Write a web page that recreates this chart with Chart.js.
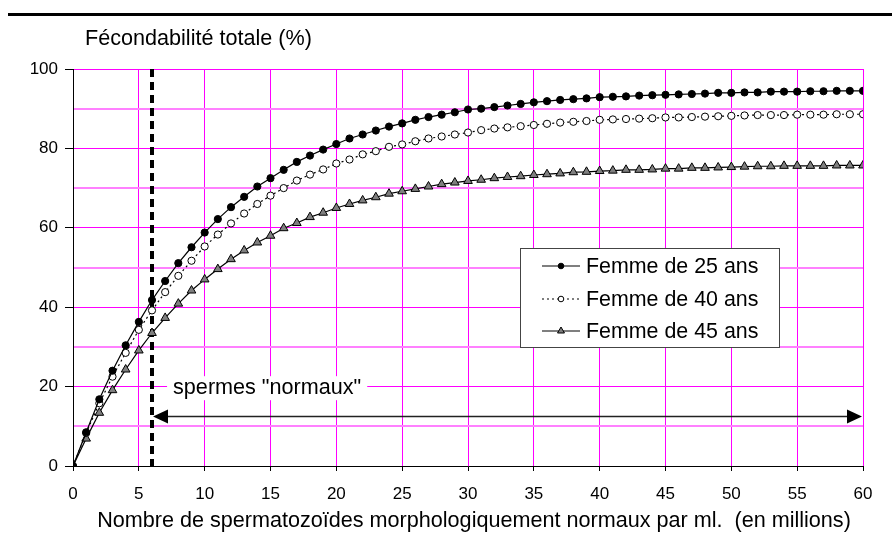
<!DOCTYPE html>
<html>
<head>
<meta charset="utf-8">
<script src="https://cdn.jsdelivr.net/npm/chart.js@4/dist/chart.umd.min.js"></script>
<style>
  body { margin: 0; background: #fff; }
  canvas { display: block; }
</style>
</head>
<body>
<canvas id="chart1"></canvas>
<script>
// nombre de spermatozoïdes (millions / ml)
const spermes = [0, 1, 2, 3, 4, 5, 6, 7, 8, 9, 10, 11, 12, 13, 14, 15, 16, 17, 18, 19, 20,
  21, 22, 23, 24, 25, 26, 27, 28, 29, 30, 31, 32, 33, 34, 35, 36, 37, 38, 39, 40,
  41, 42, 43, 44, 45, 46, 47, 48, 49, 50, 51, 52, 53, 54, 55, 56, 57, 58, 59, 60];

const femme25 = [0, 8.5, 16.8, 24.0, 30.4, 36.3, 41.8, 46.6, 51.1, 55.1, 58.8,
  62.2, 65.2, 67.8, 70.4, 72.5, 74.6, 76.6, 78.2, 79.7, 81.1,
  82.5, 83.5, 84.5, 85.5, 86.3, 87.2, 87.9, 88.5, 89.1, 89.8,
  90.0, 90.4, 90.8, 91.2, 91.6, 91.9, 92.2, 92.4, 92.6, 92.9,
  93.0, 93.1, 93.3, 93.4, 93.5, 93.6, 93.7, 93.8, 94.0, 94.0,
  94.1, 94.1, 94.3, 94.3, 94.3, 94.4, 94.4, 94.5, 94.5, 94.5];

const femme40 = [0, 8.3, 15.8, 22.5, 28.5, 34.3, 39.2, 43.8, 47.9, 51.7, 55.3,
  58.3, 61.1, 63.6, 66.0, 68.1, 70.0, 71.9, 73.4, 74.7, 76.2,
  77.2, 78.5, 79.3, 80.4, 81.0, 81.8, 82.5, 83.0, 83.5, 84.0,
  84.6, 85.0, 85.3, 85.6, 85.9, 86.2, 86.5, 86.7, 86.9, 87.2,
  87.3, 87.4, 87.5, 87.6, 87.8, 87.8, 87.9, 88.0, 88.1, 88.2,
  88.3, 88.4, 88.4, 88.4, 88.5, 88.5, 88.5, 88.6, 88.6, 88.6];

const femme45 = [0, 6.9, 13.4, 19.1, 24.3, 29.1, 33.5, 37.3, 40.9, 44.2, 47.0,
  49.6, 52.1, 54.3, 56.3, 58.0, 59.9, 61.2, 62.7, 63.8, 65.0,
  66.0, 66.9, 67.7, 68.6, 69.2, 69.8, 70.4, 71.0, 71.4, 71.8,
  72.1, 72.5, 72.8, 73.0, 73.3, 73.5, 73.7, 74.0, 74.1, 74.3,
  74.4, 74.6, 74.6, 74.7, 74.9, 74.9, 75.1, 75.1, 75.2, 75.3,
  75.4, 75.5, 75.5, 75.6, 75.6, 75.6, 75.6, 75.7, 75.7, 75.7];

const seriesNames = ['Femme de 25 ans', 'Femme de 40 ans', 'Femme de 45 ans'];

// seuil "normal" et flèche
const seuilNormal = 6;
const flecheY = 12.7;
const flecheFin = 60;
const texteNormaux = 'spermes "normaux"';
const texteX = 7.6;
const texteY = 19.6;

const titreY = 'Fécondabilité totale (%)';
const titreX = 'Nombre de spermatozoïdes morphologiquement normaux par ml.  (en millions)';

const FONT = '"Liberation Sans", Arial, sans-serif';
const MAGENTA = '#ff00ff';

const canvas = document.getElementById('chart1');
canvas.width = 892;
canvas.height = 548;
const ctx = canvas.getContext('2d');

function pts(values) {
  return spermes.map(function (x, i) { return { x: x, y: values[i] }; });
}

const datasets = [
  {
    label: seriesNames[0],
    data: pts(femme25),
    borderColor: '#000',
    borderWidth: 1.2,
    pointStyle: 'circle',
    pointRadius: 3.6,
    pointBackgroundColor: '#000',
    pointBorderColor: '#000',
    pointBorderWidth: 1,
  },
  {
    label: seriesNames[1],
    data: pts(femme40),
    borderColor: '#000',
    borderWidth: 1.2,
    borderDash: [2, 3],
    pointStyle: 'circle',
    pointRadius: 3.6,
    pointBackgroundColor: '#fff',
    pointBorderColor: '#000',
    pointBorderWidth: 1,
  },
  {
    label: seriesNames[2],
    data: pts(femme45),
    borderColor: '#000',
    borderWidth: 1.2,
    pointStyle: 'triangle',
    pointRadius: 5,
    pointBackgroundColor: '#7f7f7f',
    pointBorderColor: '#000',
    pointBorderWidth: 1,
  },
];

function drawMarker(c, ds, x, y, r) {
  c.save();
  c.setLineDash([]);
  c.lineWidth = 1;
  c.fillStyle = ds.pointBackgroundColor;
  c.strokeStyle = ds.pointBorderColor;
  c.beginPath();
  if (ds.pointStyle === 'triangle') {
    c.moveTo(x, y - r);
    c.lineTo(x + r * 0.87, y + r * 0.5);
    c.lineTo(x - r * 0.87, y + r * 0.5);
    c.closePath();
  } else {
    c.arc(x, y, r, 0, Math.PI * 2);
  }
  c.fill();
  c.stroke();
  c.restore();
}

const decor = {
  id: 'decor',
  beforeDraw(chart) {
    const c = chart.ctx;
    const a = chart.chartArea;
    c.save();
    c.fillStyle = '#fff';
    c.fillRect(0, 0, chart.width, chart.height);
    // trait en haut
    c.fillStyle = '#000';
    c.fillRect(8, 13, chart.width - 8, 3);
    // titres
    c.font = '21.6px ' + FONT;
    c.textBaseline = 'middle';
    c.textAlign = 'left';
    c.fillText(titreY, a.left + 12, 39);
    c.textAlign = 'center';
    c.fillText(titreX, (a.left + a.right) / 2 + 6, 521);
    c.restore();
  },
  beforeDatasetsDraw(chart) {
    const c = chart.ctx;
    const xs = chart.scales.x;
    const ys = chart.scales.y;
    const px = Math.round(xs.getPixelForValue(seuilNormal));
    c.save();
    c.strokeStyle = '#000';
    c.lineWidth = 4;
    c.setLineDash([8, 5]);
    c.beginPath();
    c.moveTo(px, ys.getPixelForValue(100));
    c.lineTo(px, ys.getPixelForValue(0));
    c.stroke();
    c.restore();
  },
  afterDatasetsDraw(chart) {
    const c = chart.ctx;
    const xs = chart.scales.x;
    const ys = chart.scales.y;
    c.save();
    // texte avec fond blanc
    c.font = '21.6px ' + FONT;
    c.textBaseline = 'middle';
    c.textAlign = 'left';
    const tx = xs.getPixelForValue(texteX);
    const ty = ys.getPixelForValue(texteY);
    const tw = c.measureText(texteNormaux).width;
    c.fillStyle = '#fff';
    c.fillRect(tx - 6, ty - 12, tw + 12, 24);
    c.fillStyle = '#000';
    c.fillText(texteNormaux, tx, ty);

    // flèche double
    const x1 = xs.getPixelForValue(seuilNormal) + 1;
    const x2 = xs.getPixelForValue(flecheFin) - 1;
    const fy = Math.round(ys.getPixelForValue(flecheY)) + 0.5;
    c.strokeStyle = '#222';
    c.lineWidth = 1.5;
    c.beginPath();
    c.moveTo(x1 + 10, fy);
    c.lineTo(x2 - 10, fy);
    c.stroke();
    c.fillStyle = '#000';
    c.beginPath();
    c.moveTo(x1, fy);
    c.lineTo(x1 + 15, fy - 7);
    c.lineTo(x1 + 15, fy + 7);
    c.closePath();
    c.fill();
    c.beginPath();
    c.moveTo(x2, fy);
    c.lineTo(x2 - 15, fy - 7);
    c.lineTo(x2 - 15, fy + 7);
    c.closePath();
    c.fill();

    // légende
    const L = 520, T = 248, W = 259, H = 99;
    c.fillStyle = '#fff';
    c.fillRect(L, T, W, H);
    c.strokeStyle = '#444';
    c.lineWidth = 1;
    c.strokeRect(L + 0.5, T + 0.5, W, H);
    const rows = [266, 299, 331];
    chart.data.datasets.forEach(function (ds, i) {
      const y = rows[i];
      c.strokeStyle = '#000';
      c.lineWidth = 1.2;
      c.setLineDash(ds.borderDash || []);
      c.beginPath();
      c.moveTo(L + 22, y);
      c.lineTo(L + 60, y);
      c.stroke();
      c.setLineDash([]);
      drawMarker(c, ds, L + 41, y, ds.pointStyle === 'triangle' ? 4 : 2.8);
      c.fillStyle = '#000';
      c.font = '21.4px ' + FONT;
      c.textAlign = 'left';
      c.textBaseline = 'middle';
      c.fillText(ds.label, L + 66, y + 1);
    });
    c.restore();
  },
};

new Chart(ctx, {
  type: 'line',
  data: { datasets: datasets },
  plugins: [decor],
  options: {
    responsive: false,
    maintainAspectRatio: false,
    animation: false,
    layout: { padding: { top: 69, right: 29, left: 0, bottom: 0 } },
    plugins: {
      legend: { display: false },
      tooltip: { enabled: false },
    },
    scales: {
      x: {
        type: 'linear',
        min: 0,
        max: 60,
        afterFit: function (scale) { scale.height = 82; },
        ticks: {
          stepSize: 5,
          color: '#000',
          font: { family: FONT, size: 17 },
          padding: 13,
          maxRotation: 0,
        },
        grid: {
          color: MAGENTA,
          lineWidth: 1,
          tickLength: 5,
          tickColor: '#000',
        },
        border: { color: '#000', width: 1 },
      },
      y: {
        min: 0,
        max: 100,
        afterFit: function (scale) { scale.width = 73; },
        ticks: {
          stepSize: 10,
          color: '#000',
          font: { family: FONT, size: 17 },
          padding: 7,
          callback: function (v) { return v % 20 === 0 ? v : ''; },
        },
        grid: {
          color: function (c) { return c.tick && c.tick.value % 20 === 0 ? MAGENTA : '#ff80ff'; },
          lineWidth: function (c) { return c.tick && c.tick.value % 20 === 0 ? 1 : 2; },
          tickLength: 8,
          tickColor: function (c) { return c.tick && c.tick.value % 20 === 0 ? '#000' : 'rgba(0,0,0,0)'; },
        },
        border: { color: '#000', width: 1 },
      },
    },
  },
});
</script>
</body>
</html>
